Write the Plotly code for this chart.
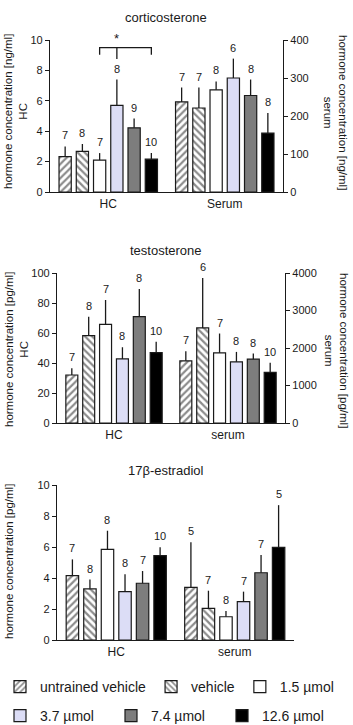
import plotly.graph_objects as go

# ---------------- data ----------------
series = ["untrained vehicle", "vehicle", "1.5 µmol", "3.7 µmol", "7.4 µmol", "12.6 µmol"]
fills = ["white", "white", "white", "#dcddf6", "#7d7d7d", "black"]
patterns = ["/", "\\", "", "", "", ""]
legend_rows = ["legend", "legend", "legend", "legend2", "legend2", "legend2"]

# corticosterone
cort_hc = [2.33, 2.67, 2.1, 5.7, 4.22, 2.16]
cort_hc_err = [0.67, 0.49, 0.46, 1.7, 0.61, 0.4]
cort_hc_n = [7, 8, 7, 8, 9, 10]
cort_se = [237, 221, 269, 300, 254, 155]
cort_se_err = [38, 54, 22, 51, 42, 53]
cort_se_n = [7, 7, 8, 6, 8, 8]

# testosterone
test_hc = [32, 58.2, 65.8, 42.7, 70.9, 46.9]
test_hc_err = [4.5, 12.7, 16.2, 7.8, 18.4, 7.3]
test_hc_n = [7, 8, 7, 8, 8, 10]
test_se = [1657, 2535, 1870, 1630, 1702, 1348]
test_se_err = [258, 1329, 516, 266, 151, 256]
test_se_n = [7, 6, 7, 8, 8, 10]

# estradiol
estr_hc = [4.15, 3.3, 5.85, 3.12, 3.66, 5.44]
estr_hc_err = [1.05, 0.6, 1.2, 1.12, 0.79, 0.54]
estr_hc_n = [7, 8, 8, 8, 7, 10]
estr_se = [3.4, 2.04, 1.5, 2.47, 4.34, 5.98]
estr_se_err = [2.9, 1.14, 0.37, 0.65, 1.14, 2.72]
estr_se_n = [5, 7, 8, 7, 7, 5]

FONT = "Liberation Sans, Arial, sans-serif"
INK = "#1a1a1a"
H, W = 725, 353

def py(px):
    return 1 - px / H

def pxx(px):
    return px / W

fig = go.Figure()

pitch = 0.148
bw = 0.105

def xpos(g, i):
    return g + (i - 2.5) * pitch

def add_panel(xa, ya, ya_r, hc, hc_err, se, se_err, show_legend):
    for i, name in enumerate(series):
        marker = dict(color=fills[i], line=dict(color=INK, width=1.2))
        if patterns[i]:
            marker["pattern"] = dict(shape=patterns[i], fgcolor=INK, bgcolor="white",
                                     size=5, solidity=0.45)
        fig.add_trace(go.Bar(
            x=[xpos(0, i)], y=[hc[i]], width=bw, name=name, legendgroup=name,
            legend=legend_rows[i],
            showlegend=show_legend, marker=marker, xaxis=xa, yaxis=ya,
            error_y=dict(type="data", array=[hc_err[i]], arrayminus=[0], symmetric=False,
                         color=INK, thickness=1.3, width=0),
        ))
        fig.add_trace(go.Bar(
            x=[xpos(1, i)], y=[se[i]], width=bw, name=name, legendgroup=name,
            legend=legend_rows[i],
            showlegend=False, marker=marker, xaxis=xa, yaxis=ya_r,
            error_y=dict(type="data", array=[se_err[i]], arrayminus=[0], symmetric=False,
                         color=INK, thickness=1.3, width=0),
        ))

def add_labels(xa, ya, ya_r, hc, hc_err, hc_n, se, se_err, se_n):
    for i in range(6):
        fig.add_annotation(x=xpos(0, i), y=hc[i] + hc_err[i], text=str(hc_n[i]),
                           xref=xa, yref=ya, showarrow=False, xanchor="center",
                           yanchor="bottom", yshift=3,
                           font=dict(size=11, family=FONT, color=INK))
        fig.add_annotation(x=xpos(1, i), y=se[i] + se_err[i], text=str(se_n[i]),
                           xref=xa, yref=ya_r, showarrow=False, xanchor="center",
                           yanchor="bottom", yshift=3,
                           font=dict(size=11, family=FONT, color=INK))

add_panel("x", "y", "y2", cort_hc, cort_hc_err, cort_se, cort_se_err, True)
add_panel("x2", "y3", "y4", test_hc, test_hc_err, test_se, test_se_err, False)
add_panel("x3", "y5", "y5", estr_hc, estr_hc_err, estr_se, estr_se_err, False)
add_labels("x", "y", "y2", cort_hc, cort_hc_err, cort_hc_n, cort_se, cort_se_err, cort_se_n)
add_labels("x2", "y3", "y4", test_hc, test_hc_err, test_hc_n, test_se, test_se_err, test_se_n)
add_labels("x3", "y5", "y5", estr_hc, estr_hc_err, estr_hc_n, estr_se, estr_se_err, estr_se_n)

# significance bracket (corticosterone HC: 3.7 µmol vs 1.5 and 12.6 µmol)
sig_level = 9.5
sig_drop = 0.47
mid_drop = 0.75
xl, xm, xr = xpos(0, 2), xpos(0, 3), xpos(0, 5)
fig.add_trace(go.Scatter(
    x=[xl, xl, xr, xr, None, xm, xm], y=[sig_level - sig_drop, sig_level, sig_level, sig_level - sig_drop,
                                           None, sig_level, sig_level - mid_drop],
    mode="lines", line=dict(color=INK, width=1.3), xaxis="x", yaxis="y",
    showlegend=False, hoverinfo="skip"))
fig.add_annotation(x=xm, y=sig_level, xref="x", yref="y", text="*", showarrow=False,
                   xanchor="center", yanchor="bottom", yshift=0,
                   font=dict(size=13, family=FONT, color=INK))

axis_common = dict(showline=True, linecolor=INK, linewidth=1.3, ticks="outside",
                   tickcolor=INK, ticklen=4, tickwidth=1.2, showgrid=False, zeroline=False,
                   tickfont=dict(size=11, family=FONT, color=INK))
xcommon = dict(showline=True, linecolor=INK, linewidth=1.3, ticks="", showgrid=False,
               zeroline=False, range=[-0.5, 1.5], tickvals=[0, 1],
               tickfont=dict(size=12, family=FONT, color=INK))

legend_common = dict(orientation="h", x=0.0, xanchor="left", yanchor="top",
                     font=dict(size=14, family=FONT, color=INK), itemwidth=30,
                     tracegroupgap=0, itemclick=False)

fig.update_layout(
    width=W, height=H, margin=dict(l=0, r=0, t=0, b=0, autoexpand=False),
    paper_bgcolor="white", plot_bgcolor="white",
    barmode="overlay",
    font=dict(family=FONT, color=INK),
    xaxis=dict(**xcommon, domain=[pxx(50), pxx(283)], anchor="y", ticktext=["HC", "Serum"]),
    yaxis=dict(**axis_common, domain=[py(192), py(40)], anchor="x", range=[0, 10], dtick=2),
    yaxis2=dict(**axis_common, overlaying="y", side="right", anchor="x", range=[0, 400], dtick=100),
    xaxis2=dict(**xcommon, domain=[pxx(57), pxx(285)], anchor="y3", ticktext=["HC", "serum"]),
    yaxis3=dict(**axis_common, domain=[py(423), py(273)], anchor="x2", range=[0, 100], dtick=20),
    yaxis4=dict(**axis_common, overlaying="y3", side="right", anchor="x2", range=[0, 4000], dtick=1000),
    xaxis3=dict(**xcommon, domain=[pxx(57), pxx(294)], anchor="y5", ticktext=["HC", "serum"]),
    yaxis5=dict(**axis_common, domain=[py(640), py(485)], anchor="x3", range=[0, 10], dtick=2),
    legend=dict(**legend_common, y=py(671)),
    legend2=dict(**legend_common, y=py(700), entrywidth=66, entrywidthmode="pixels"),
)

# titles
titles = [("corticosterone", 18), ("testosterone", 250), ("17β-estradiol", 470)]
for t, ypx in titles:
    fig.add_annotation(x=pxx(166), y=py(ypx), xref="paper", yref="paper", text=t,
                       showarrow=False, xanchor="center", yanchor="middle",
                       font=dict(size=13, family=FONT, color=INK))

# axis titles
ytitles = [
    ("hormone concentration [ng/ml]<br>HC", 16, 112, -90),
    ("hormone concentration [ng/ml]<br>serum", 335, 112, 90),
    ("hormone concentration [pg/ml]<br>HC", 16, 350, -90),
    ("hormone concentration [pg/ml]<br>serum", 337, 350, 90),
    ("hormone concentration [pg/ml]", 9, 562, -90),
]
for t, xp, yp, ang in ytitles:
    fig.add_annotation(x=pxx(xp), y=py(yp), xref="paper", yref="paper", text=t,
                       showarrow=False, textangle=ang, xanchor="center", yanchor="middle",
                       font=dict(size=11.5, family=FONT, color=INK))

fig.write_html("out.html")
